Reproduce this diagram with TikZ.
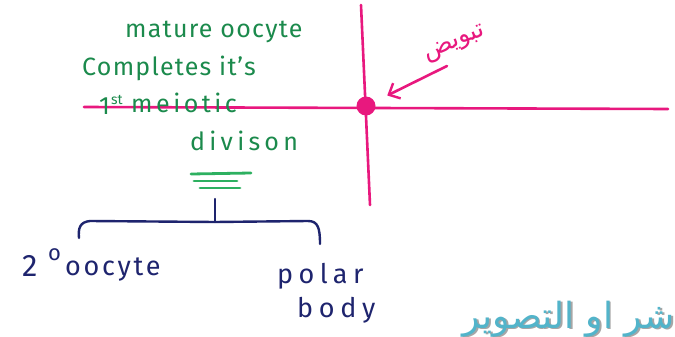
\documentclass[tikz,border=0pt]{standalone}
\usepackage{fontspec}
\setmainfont{Fira Sans}
\newfontfamily\arabicfont[Script=Arabic]{DejaVu Sans}
\TeXXeTstate=1
\usetikzlibrary{arrows.meta}
\definecolor{mkpink}{HTML}{E8187E}
\definecolor{mkgreen}{HTML}{1B8A4C}
\definecolor{mkgreenlt}{HTML}{2DB060}
\definecolor{mknavy}{HTML}{1E246E}
\definecolor{wmteal}{HTML}{52B4CA}
\begin{document}
\begin{tikzpicture}[x=1pt,y=-1pt,
  greentext/.style={text=mkgreen,inner sep=0pt,anchor=base west},
  navytext/.style={text=mknavy,inner sep=0pt,anchor=base west},
  pinkline/.style={draw=mkpink,line width=2.6pt,line cap=round},
  greenline/.style={draw=mkgreenlt,line width=2.8pt,line cap=round},
  navyline/.style={draw=mknavy,line width=2.4pt,line cap=round}]
\newcommand\gfont[1]{\fontsize{25}{28}\selectfont\addfontfeatures{LetterSpace=#1}}
\newcommand\nfont[1]{\fontsize{27}{30}\selectfont\addfontfeatures{LetterSpace=#1}}
\useasboundingbox (0,0) rectangle (675,337);
\fill[white] (0,0) rectangle (675,337);

% pink axes
\coordinate (hl) at (84,107);
\coordinate (hr) at (668,109);
\coordinate (vt) at (361,5);
\coordinate (vb) at (370,205);
\draw[pinkline] (hl) -- (hr);
\draw[pinkline] (vt) -- (vb);
\node[circle,fill=mkpink,minimum size=19pt,inner sep=0pt] (dot) at (366,106) {};

% arrow and arabic label
\coordinate (as) at (447,66);
\draw[pinkline,shorten >=14pt,-{Straight Barb[length=9pt,width=17pt,line width=2.4pt]}] (as) -- (dot);
\node[text=mkpink,rotate=22,inner sep=0pt,font=\arabicfont\fontsize{25}{27}\selectfont] (ovu) at (455,44) {\beginR تبويض\endR};

% green text
\node[greentext,font=\gfont{5}] (t1) at (125,38) {mature oocyte};
\node[greentext,font=\gfont{5}] (t2) at (82,75) {Completes it's};
\node[greentext,font=\gfont{5}] (t3a) at (99,114) {1};
\node[greentext,font=\fontsize{14}{15}\selectfont] (t3b) at (111,104) {st};
\node[greentext,font=\gfont{14}] (t3c) at (131,113) {meiotic};
\node[greentext,font=\gfont{17}] (t4) at (190,150) {divison};

% equivalence lines
\coordinate (e1a) at (191,174); \coordinate (e1b) at (251,173);
\coordinate (e2a) at (194,181); \coordinate (e2b) at (237,181);
\coordinate (e3a) at (200,188); \coordinate (e3b) at (240,188);
\draw[greenline] (e1a) -- (e1b);
\draw[greenline] (e2a) -- (e2b);
\draw[greenline] (e3a) -- (e3b);

% bracket
\coordinate (tk) at (215,199);
\coordinate (tb) at (215,222);
\coordinate (bl) at (79,238);
\coordinate (br) at (320,244);
\coordinate (bl2) at (90,221);
\coordinate (br2) at (308,221);
\draw[navyline] (tk) -- (tb);
\draw[navyline] (bl) .. controls (78,228) and (80,222) .. (bl2) -- (tb) -- (br2) .. controls (318,221) and (320,228) .. (br);

% navy labels
\node[navytext,font=\fontsize{31}{32}\selectfont] (n1) at (22,276) {2};
\node[navytext,font=\fontsize{22}{23}\selectfont] (n1o) at (48,260) {o};
\node[navytext,font=\nfont{10}] (n2) at (65,275) {oocyte};
\node[navytext,font=\nfont{20}] (n3) at (277,283) {polar};
\node[navytext,font=\nfont{21}] (n4) at (297,317) {body};

% watermark
\node[text=black!35,anchor=south east,inner sep=0pt,font=\arabicfont\fontsize{36}{38}\selectfont] (wms) at (676.5,338.5) {\beginR شر او التصوير\endR};
\node[text=wmteal,anchor=south east,inner sep=0pt,font=\arabicfont\fontsize{36}{38}\selectfont] (wm) at (675,337) {\beginR شر او التصوير\endR};
\end{tikzpicture}
\end{document}
